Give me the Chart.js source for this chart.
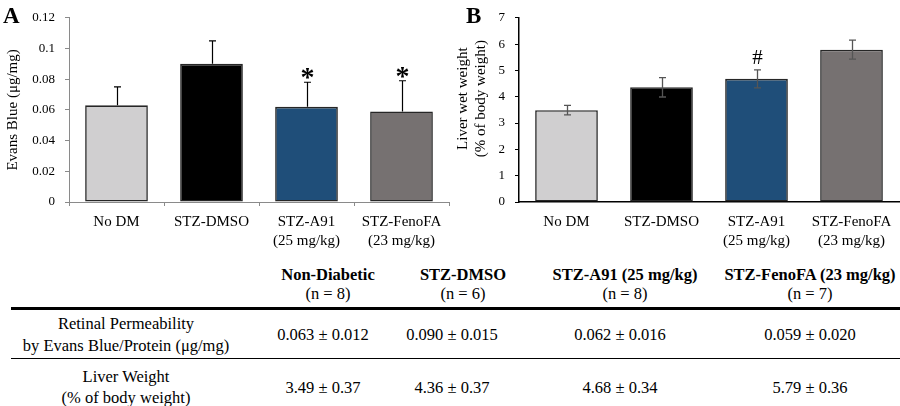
<!DOCTYPE html>
<html><head><meta charset="utf-8">
<script src="https://cdn.jsdelivr.net/npm/chart.js@4.4.0/dist/chart.umd.min.js"></script>
<style>
body{margin:0;background:#fff;width:900px;height:406px;overflow:hidden;position:relative;font-family:'Liberation Serif',serif;color:#000}
#wa{position:absolute;left:0;top:0;width:450px;height:250px}
#wb{position:absolute;left:450px;top:0;width:450px;height:250px}
.pl{position:absolute;font-family:'Liberation Serif',serif;font-weight:bold;font-size:23px;line-height:1}
.t{position:absolute;font-family:'Liberation Serif',serif;font-size:16.5px;line-height:20px;white-space:nowrap;transform:translateX(-50%);text-align:center}
.hr{position:absolute;left:11px;width:889px;background:#000}
</style></head>
<body>
<div id="wa"><canvas id="ca"></canvas></div>
<div id="wb"><canvas id="cb"></canvas></div>
<div class="pl" style="left:3px;top:4px">A</div>
<div class="pl" style="left:466px;top:4px">B</div>
<div id="tbl"></div>
<script>
const categories = [['No DM'],['STZ-DMSO'],['STZ-A91','(25 mg/kg)'],['STZ-FenoFA','(23 mg/kg)']];
const evansBlue = [0.063, 0.090, 0.062, 0.059];
const evansBlueErr = [0.012, 0.015, 0.016, 0.020];
const evansMarks = ['', '', '*', '*'];
const liverWeight = [3.49, 4.36, 4.68, 5.79];
const liverWeightErr = [0.18, 0.37, 0.34, 0.36];
const liverMarks = ['', '', '#', ''];
const barColors = ['#d0cfd0', '#000000', '#1f4e79', '#767171'];
const yTicksA = [0, 0.02, 0.04, 0.06, 0.08, 0.1, 0.12];
const yTicksB = [0, 1, 2, 3, 4, 5, 6, 7];
const groups = ['Non-Diabetic', 'STZ-DMSO', 'STZ-A91 (25 mg/kg)', 'STZ-FenoFA (23 mg/kg)'];
const groupN = ['(n = 8)', '(n = 6)', '(n = 8)', '(n = 7)'];
const rowLabels = [['Retinal Permeability', 'by Evans Blue/Protein (μg/mg)'], ['Liver Weight', '(% of body weight)']];
const permeabilityRow = ['0.063 ± 0.012', '0.090 ± 0.015', '0.062 ± 0.016', '0.059 ± 0.020'];
const liverRow = ['3.49 ± 0.37', '4.36 ± 0.37', '4.68 ± 0.34', '5.79 ± 0.36'];

const FONT = 'Liberation Serif';

function errorPlugin(errs, marks, cfg) {
  return {
    id: 'errorBars',
    afterDatasetsDraw(chart) {
      const ctx = chart.ctx, meta = chart.getDatasetMeta(0), y = chart.scales.y;
      const ds = chart.data.datasets[0];
      ctx.save();
      ctx.strokeStyle = cfg.errColor; ctx.lineWidth = cfg.errWidth;
      meta.data.forEach((bar, i) => {
        const v = ds.data[i], e = errs[i];
        const top = y.getPixelForValue(v + e);
        const bot = y.getPixelForValue(cfg.both ? v - e : v);
        const x = Math.round(bar.x) + 0.5;
        ctx.beginPath();
        ctx.moveTo(x, top); ctx.lineTo(x, bot);
        ctx.moveTo(x - cfg.cap, top); ctx.lineTo(x + cfg.cap, top);
        if (cfg.both) { ctx.moveTo(x - cfg.cap, bot); ctx.lineTo(x + cfg.cap, bot); }
        ctx.stroke();
        if (marks[i]) {
          ctx.fillStyle = '#000';
          ctx.font = cfg.markFont;
          ctx.textAlign = 'center';
          ctx.textBaseline = 'alphabetic';
          ctx.fillText(marks[i], x, top - cfg.markGap);
        }
      });
      ctx.restore();
    }
  };
}

function makeChart(id, values, errs, marks, ticks, cfg) {
  return new Chart(document.getElementById(id), {
    type: 'bar',
    data: { labels: categories, datasets: [{ data: values, backgroundColor: barColors, borderColor: '#262626', borderWidth: 1.6, borderSkipped: false, barPercentage: 0.66, categoryPercentage: 1 }] },
    options: {
      responsive: true, maintainAspectRatio: false, animation: false,
      layout: { padding: { left: 0, right: 1, top: 17, bottom: 0 } },
      plugins: { legend: { display: false }, tooltip: { enabled: false } },
      scales: {
        x: {
          grid: { display: true, drawOnChartArea: false, tickLength: 4, color: cfg.xTickColor, lineWidth: 1 },
          border: { color: cfg.axisColor, width: cfg.axisWidth },
          ticks: { color: '#000', font: { family: FONT, size: 15, lineHeight: 1.25 }, padding: 7, maxRotation: 0, autoSkip: false },
          afterFit: s => { s.height = 48; }
        },
        y: {
          min: 0, max: ticks[ticks.length - 1],
          grid: { drawOnChartArea: false, tickLength: 4, color: cfg.axisColor },
          border: { color: cfg.axisColor, width: cfg.axisWidth },
          ticks: { color: '#000', font: { family: FONT, size: 13 }, padding: 10, callback: v => String(+Number(v).toFixed(2)) },
          afterBuildTicks: s => { s.ticks = ticks.map(v => ({ value: v })); },
          title: { display: true, text: cfg.title, color: '#000', font: { family: FONT, size: 15, lineHeight: 1.2 }, padding: { top: 4, bottom: 4 } },
          afterFit: s => { s.width = 69; }
        }
      }
    },
    plugins: [errorPlugin(errs, marks, cfg)]
  });
}

makeChart('ca', evansBlue, evansBlueErr, evansMarks, yTicksA, {
  axisColor: '#8a8a8a', axisWidth: 1, xTickColor: '#8a8a8a', title: 'Evans Blue (μg/mg)',
  errColor: '#000', errWidth: 1.2, both: false, cap: 3.5, markFont: 'bold 28px "Liberation Serif"', markGap: -4
});
makeChart('cb', liverWeight, liverWeightErr, liverMarks, yTicksB, {
  axisColor: '#000', axisWidth: 1.5, xTickColor: 'transparent',
  title: ['\u00a0\u00a0\u00a0\u00a0\u00a0\u00a0Liver wet weight', '\u00a0\u00a0\u00a0\u00a0\u00a0\u00a0(% of body weight)'],
  errColor: '#555', errWidth: 1.3, both: true, cap: 3.5, markFont: '21px "Liberation Serif"', markGap: 6
});

// table
const tbl = document.getElementById('tbl');
function put(text, cx, top, bold) {
  const d = document.createElement('div');
  d.className = 't'; d.textContent = text;
  d.style.left = cx + 'px'; d.style.top = top + 'px';
  if (bold) d.style.fontWeight = 'bold';
  tbl.appendChild(d);
}
function rule(y, h) {
  const d = document.createElement('div');
  d.className = 'hr'; d.style.top = (y - h / 2) + 'px'; d.style.height = h + 'px';
  tbl.appendChild(d);
}
const headCx = [328, 463, 625, 810];
const valCx = [323, 452, 620, 810];
groups.forEach((g, i) => { put(g, headCx[i], 264.5, true); put(groupN[i], headCx[i], 284, false); });
rule(308.5, 3);
put(rowLabels[0][0], 126, 313.5); put(rowLabels[0][1], 126, 336);
permeabilityRow.forEach((v, i) => put(v, valCx[i], 324.5));
rule(358.5, 1.8);
put(rowLabels[1][0], 126, 367); put(rowLabels[1][1], 126, 387.5);
liverRow.forEach((v, i) => put(v, valCx[i], 377.5));
</script>
</body></html>
